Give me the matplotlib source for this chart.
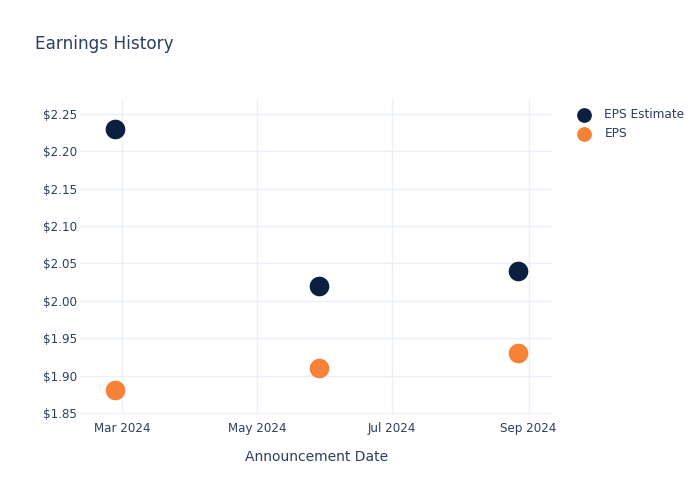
import pandas as pd
import matplotlib.pyplot as plt
import matplotlib.dates as mdates

# Quarterly EPS announcements
dates = pd.to_datetime(["2024-02-27", "2024-05-29", "2024-08-27"])
eps_estimate = [2.23, 2.02, 2.04]
eps_actual = [1.88, 1.91, 1.93]

TEXT = "#2a3f5f"
GRID = "#ebf0f8"
NAVY = "#0b1f41"
ORANGE = "#f68237"


def main() -> None:
    fig = plt.figure(figsize=(7, 5), dpi=100)
    ax = fig.add_axes([0.1143, 0.172, 0.6757, 0.63])

    ax.scatter(dates, eps_estimate, s=200, color=NAVY, label="EPS Estimate", zorder=3, linewidths=0)
    ax.scatter(dates, eps_actual, s=200, color=ORANGE, label="EPS", zorder=3, linewidths=0)

    ax.set_xlim(pd.Timestamp("2024-02-11"), pd.Timestamp("2024-09-12"))
    ax.set_ylim(1.8485, 2.27)
    ax.set_yticks([1.85 + 0.05 * i for i in range(9)])
    ax.yaxis.set_major_formatter(plt.FuncFormatter(lambda v, _: f"${v:.2f}"))
    ax.xaxis.set_major_locator(mdates.MonthLocator(bymonth=[3, 5, 7, 9]))
    ax.xaxis.set_major_formatter(mdates.DateFormatter("%b %Y"))

    ax.grid(True, color=GRID, linewidth=1)
    ax.set_axisbelow(True)
    for spine in ax.spines.values():
        spine.set_visible(False)
    ax.tick_params(length=0, labelsize=8.6, labelcolor=TEXT)
    ax.tick_params(axis="y", pad=2)
    ax.tick_params(axis="x", pad=6)

    ax.set_xlabel("Announcement Date", fontsize=10, color=TEXT, labelpad=10.5)
    fig.text(0.05, 0.912, "Earnings History", fontsize=12.2, color=TEXT, va="center")

    ax.legend(loc="upper left", bbox_to_anchor=(0.81, 0.793), bbox_transform=fig.transFigure,
              frameon=False, fontsize=8.7, labelcolor=TEXT, handletextpad=0.7,
              borderaxespad=0, labelspacing=0.5, markerscale=0.75)

    fig.savefig("out.png", dpi=100)
    plt.close(fig)


if __name__ == "__main__":
    main()
